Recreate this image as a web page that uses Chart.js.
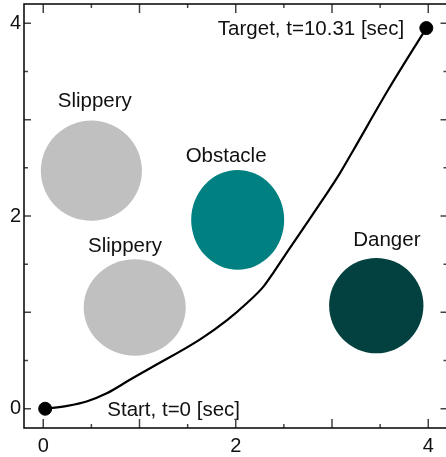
<!DOCTYPE html>
<html>
<head>
<meta charset="utf-8">
<style>
  html, body { margin: 0; padding: 0; overflow: hidden; background: #fff; }
  #wrap { width: 455px; height: 468px; margin-top: -11px; }
</style>
<script src="https://cdn.jsdelivr.net/npm/chart.js@4/dist/chart.umd.min.js"></script>
</head>
<body>
<div id="wrap"><canvas id="c" width="455" height="468"></canvas></div>
<script>
// Planned path from start to target
const pathX = [0.02, 0.25, 0.45, 0.66, 0.90, 1.11, 1.63, 1.91, 2.12, 2.29, 2.39, 2.53, 2.70, 2.91, 3.08, 3.22, 3.59, 3.98];
const pathY = [0.00, 0.03, 0.075, 0.16, 0.30, 0.42, 0.72, 0.92, 1.10, 1.27, 1.41, 1.62, 1.87, 2.18, 2.44, 2.68, 3.32, 3.95];

// Start and target markers
const endX = [0.02, 3.98];
const endY = [0.00, 3.95];
const endLabels = ['Start, t=0 [sec]', 'Target, t=10.31 [sec]'];
const endLabelX = [0.665, 3.75];
const endLabelY = [-0.08, 3.88];
const endLabelAlign = ['left', 'right'];

// Terrain regions
const regionNames = ['Slippery', 'Slippery', 'Obstacle', 'Danger'];
const regionX = [0.50, 0.95, 2.02, 3.46];
const regionY = [2.47, 1.05, 1.96, 1.07];
const regionRX = [0.525, 0.53, 0.483, 0.49];
const regionRY = [0.52, 0.50, 0.517, 0.495];
const regionColors = ['#c0c0c0', '#c0c0c0', '#008080', '#034040'];
const regionLabelX = [0.535, 0.85, 1.90, 3.57];
const regionLabelY = [3.13, 1.63, 2.56, 1.69];

// Axis ticks
const tickLabels = [0, 2, 4];
const majorTicks = [0, 1, 2, 3, 4];
const minorTicks = [0.5, 1.5, 2.5, 3.5];
const axisMin = -0.2, axisMax = 4.2;

const FONT = '"Liberation Sans", Arial, Helvetica, sans-serif';

const regionsPlugin = {
  id: 'regions',
  beforeDatasetsDraw(chart) {
    const { ctx, scales: { x, y } } = chart;
    ctx.save();
    for (let i = 0; i < regionNames.length; i++) {
      const cx = x.getPixelForValue(regionX[i]);
      const cy = y.getPixelForValue(regionY[i]);
      const rx = Math.abs(x.getPixelForValue(regionX[i] + regionRX[i]) - cx);
      const ry = Math.abs(y.getPixelForValue(regionY[i] + regionRY[i]) - cy);
      ctx.beginPath();
      ctx.ellipse(cx, cy, rx, ry, 0, 0, Math.PI * 2);
      ctx.fillStyle = regionColors[i];
      ctx.fill();
    }
    ctx.font = '20.5px ' + FONT;
    ctx.fillStyle = '#111';
    ctx.textBaseline = 'alphabetic';
    ctx.textAlign = 'center';
    for (let i = 0; i < regionNames.length; i++) {
      ctx.fillText(regionNames[i], x.getPixelForValue(regionLabelX[i]), y.getPixelForValue(regionLabelY[i]));
    }
    for (let i = 0; i < endLabels.length; i++) {
      ctx.textAlign = endLabelAlign[i];
      ctx.fillText(endLabels[i], x.getPixelForValue(endLabelX[i]), y.getPixelForValue(endLabelY[i]));
    }
    ctx.restore();
  }
};

const framePlugin = {
  id: 'frame',
  afterDraw(chart) {
    const { ctx, chartArea: a, scales: { x, y } } = chart;
    ctx.save();
    ctx.strokeStyle = '#444';
    ctx.lineWidth = 1.5;
    const tick = (vals, len) => {
      vals.forEach(v => {
        const px = x.getPixelForValue(v);
        const py = y.getPixelForValue(v);
        ctx.beginPath();
        ctx.moveTo(px, a.bottom); ctx.lineTo(px, a.bottom - len.b);
        ctx.moveTo(px, a.top); ctx.lineTo(px, a.top + len.t);
        ctx.moveTo(a.left, py); ctx.lineTo(a.left + len.l, py);
        ctx.moveTo(a.right, py); ctx.lineTo(a.right - len.r, py);
        ctx.stroke();
      });
    };
    tick(majorTicks, { b: 9, t: 9, l: 7, r: 7 });
    tick(minorTicks, { b: 4, t: 4, l: 4, r: 4 });
    ctx.strokeStyle = '#111';
    ctx.lineWidth = 1.6;
    ctx.strokeRect(a.left, a.top, a.right - a.left, a.bottom - a.top);
    ctx.restore();
  }
};

const axisTicks = (scale) => { scale.ticks = tickLabels.map(v => ({ value: v })); };

new Chart(document.getElementById('c'), {
  type: 'scatter',
  data: {
    datasets: [
      {
        type: 'line',
        data: pathX.map((v, i) => ({ x: v, y: pathY[i] })),
        borderColor: '#000',
        borderWidth: 2.2,
        pointRadius: 0,
        fill: false,
        cubicInterpolationMode: 'monotone'
      },
      {
        data: endX.map((v, i) => ({ x: v, y: endY[i] })),
        backgroundColor: '#000',
        borderColor: '#000',
        pointRadius: 6.5
      }
    ]
  },
  options: {
    responsive: false,
    animation: false,
    layout: { padding: { top: 6, right: 0, left: 0, bottom: 0 } },
    plugins: { legend: { display: false }, tooltip: { enabled: false } },
    scales: {
      x: {
        type: 'linear', min: axisMin, max: axisMax,
        afterBuildTicks: axisTicks,
        afterFit: (s) => { s.height = 29; },
        grid: { display: false, drawTicks: false },
        border: { display: false },
        ticks: { padding: 6, color: '#111', font: { family: FONT, size: 20 }, maxRotation: 0 }
      },
      y: {
        type: 'linear', min: axisMin, max: axisMax,
        afterBuildTicks: axisTicks,
        afterFit: (s) => { s.width = 24; },
        grid: { display: false, drawTicks: false },
        border: { display: false },
        ticks: { padding: 3, color: '#111', font: { family: FONT, size: 20 } }
      }
    }
  },
  plugins: [regionsPlugin, framePlugin]
});
</script>
</body>
</html>
